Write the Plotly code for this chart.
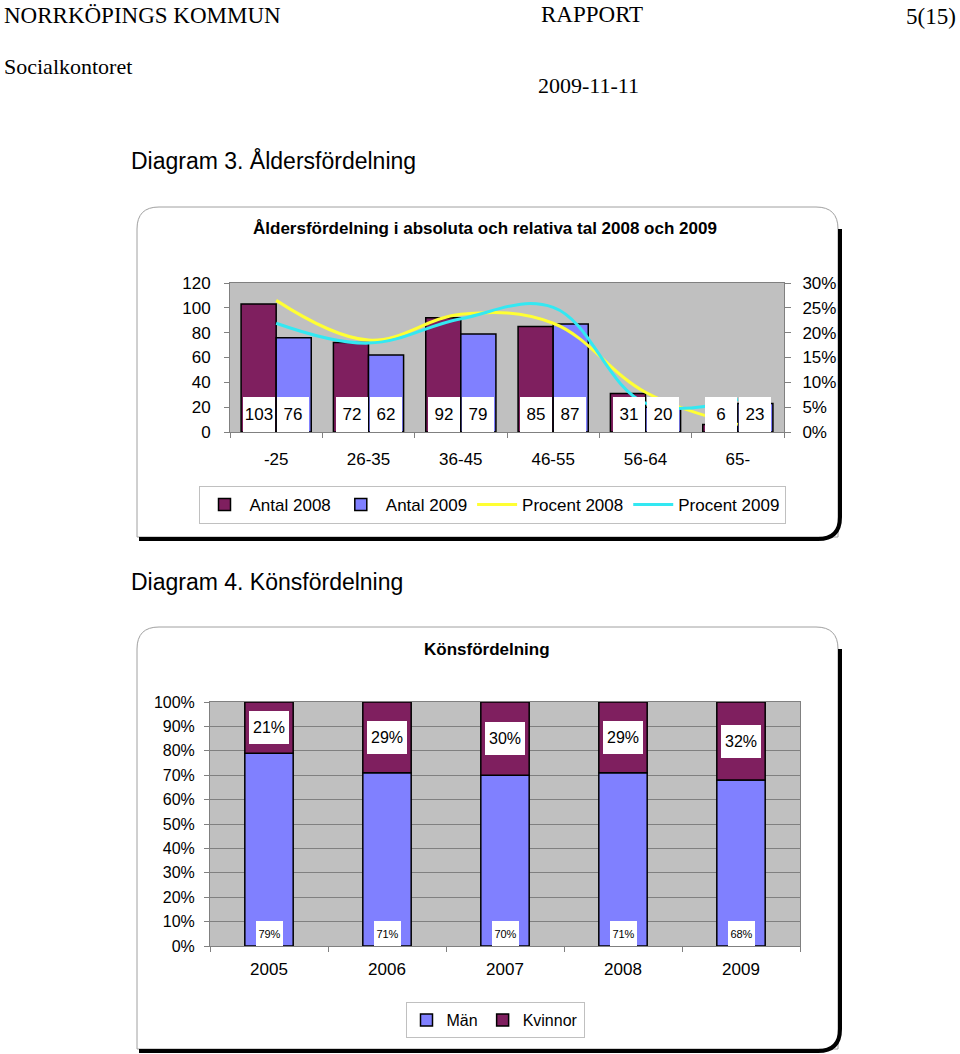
import plotly.graph_objects as go

# ---------------- data ----------------
age_groups = ["-25", "26-35", "36-45", "46-55", "56-64", "65-"]
antal_2008 = [103, 72, 92, 85, 31, 6]
antal_2009 = [76, 62, 79, 87, 20, 23]
procent_2008 = [26.5, 18.5, 23.7, 21.9, 8.0, 1.5]
procent_2009 = [21.9, 17.9, 22.8, 25.1, 5.8, 6.6]

years = ["2005", "2006", "2007", "2008", "2009"]
man = [79, 71, 70, 71, 68]
kvinnor = [21, 29, 30, 29, 32]

# ---------------- styling ----------------
W, H = 960, 1054
SANS = "Liberation Sans, Arial, sans-serif"
SERIF = "Liberation Serif, Times New Roman, serif"
PURPLE = "#7F1F5F"
BLUE = "#8080FF"
YELLOW = "#FFFF33"
CYAN = "#33E8F2"
PLOTBG = "#C0C0C0"
AXGRAY = "#808080"


def px(x):
    return x / W


def py(y):
    return 1 - y / H


fig = go.Figure()

# ---------- chart 1: bars + lines ----------
fig.add_trace(go.Bar(x=age_groups, y=antal_2008, name="Antal 2008",
                     marker=dict(color=PURPLE, line=dict(color="black", width=1.5)),
                     xaxis="x", yaxis="y", legend="legend"))
fig.add_trace(go.Bar(x=age_groups, y=antal_2009, name="Antal 2009",
                     marker=dict(color=BLUE, line=dict(color="black", width=1.5)),
                     xaxis="x", yaxis="y", legend="legend"))
fig.add_trace(go.Scatter(x=age_groups, y=procent_2008, name="Procent 2008", mode="lines",
                         line=dict(color=YELLOW, width=3, shape="spline", smoothing=1.1),
                         xaxis="x", yaxis="y2", legend="legend"))
fig.add_trace(go.Scatter(x=age_groups, y=procent_2009, name="Procent 2009", mode="lines",
                         line=dict(color=CYAN, width=3, shape="spline", smoothing=1.1),
                         xaxis="x", yaxis="y2", legend="legend"))

# ---------- chart 2: stacked 100% bars ----------
fig.add_trace(go.Bar(x=years, y=man, name="Män", width=0.41, offsetgroup="s",
                     marker=dict(color=BLUE, line=dict(color="black", width=1.5)),
                     xaxis="x3", yaxis="y3", legend="legend2"))
fig.add_trace(go.Bar(x=years, y=kvinnor, base=man, name="Kvinnor", width=0.41, offsetgroup="s",
                     marker=dict(color=PURPLE, line=dict(color="black", width=1.5)),
                     xaxis="x3", yaxis="y3", legend="legend2"))

annotations = []

# header texts
def txt(x, y, s, size, font=SERIF, anchor="left", bold=False):
    annotations.append(dict(xref="paper", yref="paper", x=px(x), y=py(y), text=("<b>%s</b>" % s) if bold else s,
                            showarrow=False, xanchor=anchor, yanchor="middle",
                            font=dict(family=font, size=size, color="black")))

txt(2, 16, "NORRKÖPINGS KOMMUN", 23)
txt(592, 14, "RAPPORT", 23, anchor="center")
txt(958, 17, "5(15)", 23, anchor="right")
txt(2, 66, "Socialkontoret", 22)
txt(588, 86, "2009-11-11", 22, anchor="center")
txt(129, 161, "Diagram 3. Åldersfördelning", 23, font=SANS)
txt(129, 582, "Diagram 4. Könsfördelning", 23, font=SANS)
txt(485, 228, "Åldersfördelning i absoluta och relativa tal 2008 och 2009", 17, font=SANS, anchor="center", bold=True)
txt(487, 649, "Könsfördelning", 17, font=SANS, anchor="center", bold=True)

# chart 1 value labels (white boxes) - x given as category index
for i, (a, b) in enumerate(zip(antal_2008, antal_2009)):
    for val, shift in ((a, -17), (b, 17)):
        annotations.append(dict(xref="x", yref="y", x=i, y=0, text=str(val), showarrow=False,
                                xanchor="center", yanchor="bottom", xshift=shift, width=32, height=35,
                                bgcolor="white", borderpad=0, borderwidth=0,
                                font=dict(family=SANS, size=17, color="black")))

# chart 2 value labels
for i, (m, k) in enumerate(zip(man, kvinnor)):
    annotations.append(dict(xref="x3", yref="y3", x=i, y=m + k / 2, text="%d%%" % k, showarrow=False,
                            xanchor="center", yanchor="middle", width=40, height=33,
                            bgcolor="white", borderpad=0, borderwidth=0,
                            font=dict(family=SANS, size=16, color="black")))
    annotations.append(dict(xref="x3", yref="y3", x=i, y=0, text="%d%%" % m, showarrow=False,
                            xanchor="center", yanchor="bottom", width=27, height=25,
                            bgcolor="white", borderpad=0, borderwidth=0,
                            font=dict(family=SANS, size=11, color="black")))

# frames (rounded border + black shadow)
def frame(l, t, r, b, rad=22):
    border = ("M {a},{b} L {c},{b} Q {d},{b} {d},{e} L {d},{f} L {g},{f} L {g},{e} Q {g},{b} {a},{b} Z"
              .format(a=px(l + rad), b=py(t), c=px(r - rad), d=px(r), e=py(t + rad), f=py(b), g=px(l)))
    shadow = ("M {x},{y0} L {x},{y1} Q {x},{yb} {x1},{yb} L {x2},{yb}"
              .format(x=px(r + 2), y0=py(t + rad), y1=py(b - rad + 2), yb=py(b + 2),
                      x1=px(r - rad + 2), x2=px(l + 2)))
    return [dict(type="path", xref="paper", yref="paper", path=border, line=dict(color="#A0A0A0", width=1),
                 layer="below"),
            dict(type="path", xref="paper", yref="paper", path=shadow, line=dict(color="black", width=4),
                 layer="below")]

shapes = frame(137, 207, 838, 537) + frame(137, 627, 838, 1049)

tickfont = dict(family=SANS, size=17, color="black")

fig.update_layout(
    width=W, height=H, autosize=False,
    margin=dict(l=0, r=0, t=0, b=0, pad=0, autoexpand=False),
    paper_bgcolor="white", plot_bgcolor=PLOTBG,
    barmode="group", bargap=0.24, bargroupgap=0,
    showlegend=True,
    font=dict(family=SANS, size=17, color="black"),
    xaxis=dict(domain=[px(230), px(784)], anchor="y", type="category", range=[-0.5, 5.5],
               showline=True, linecolor=AXGRAY, linewidth=1, mirror=True,
               ticks="outside", tickson="boundaries", ticklen=5, tickcolor=AXGRAY,
               ticklabelstandoff=12, tickfont=tickfont, showgrid=False, fixedrange=True, tickangle=0),
    yaxis=dict(domain=[py(432), py(283)], anchor="x", range=[0, 120], dtick=20,
               showline=True, linecolor=AXGRAY, linewidth=1, mirror=True,
               ticks="outside", ticklen=5, tickcolor=AXGRAY, ticklabelstandoff=10,
               tickfont=tickfont, showgrid=False, zeroline=False, fixedrange=True),
    yaxis2=dict(overlaying="y", anchor="x", side="right", range=[0, 30], dtick=5, ticksuffix="%",
                showline=True, linecolor=AXGRAY, linewidth=1,
                ticks="outside", ticklen=6, tickcolor=AXGRAY, ticklabelstandoff=8,
                tickfont=tickfont, showgrid=False, zeroline=False, fixedrange=True),
    xaxis3=dict(domain=[px(210), px(800)], anchor="y3", type="category", range=[-0.5, 4.5],
                showline=True, linecolor=AXGRAY, linewidth=1, mirror=True,
                ticks="outside", tickson="boundaries", ticklen=5, tickcolor=AXGRAY,
                ticklabelstandoff=8, tickfont=tickfont, showgrid=False, fixedrange=True, tickangle=0),
    yaxis3=dict(domain=[py(946), py(702)], anchor="x3", range=[0, 100], dtick=10, ticksuffix="%",
                showline=True, linecolor=AXGRAY, linewidth=1, mirror=True,
                ticks="outside", ticklen=5, tickcolor=AXGRAY, ticklabelstandoff=6,
                tickfont=dict(family=SANS, size=16, color="black"),
                showgrid=True, gridcolor=AXGRAY, gridwidth=1, zeroline=False, fixedrange=True),
    legend=dict(orientation="h", x=px(492), y=py(505), xanchor="center", yanchor="middle",
                bgcolor="white", bordercolor="#C0C0C0", borderwidth=1, traceorder="normal",
                font=dict(family=SANS, size=17, color="black"), itemwidth=40),
    legend2=dict(orientation="h", x=px(495), y=py(1020), xanchor="center", yanchor="middle",
                 bgcolor="white", bordercolor="#C0C0C0", borderwidth=1, traceorder="normal",
                 font=dict(family=SANS, size=16, color="black"), itemwidth=30),
    annotations=annotations,
    shapes=shapes,
)

# remove the browser's default 8px page margin so the figure fills the window exactly
fig.write_html("out.html", config={"displayModeBar": False},
               post_script="document.body.style.margin='0';")
